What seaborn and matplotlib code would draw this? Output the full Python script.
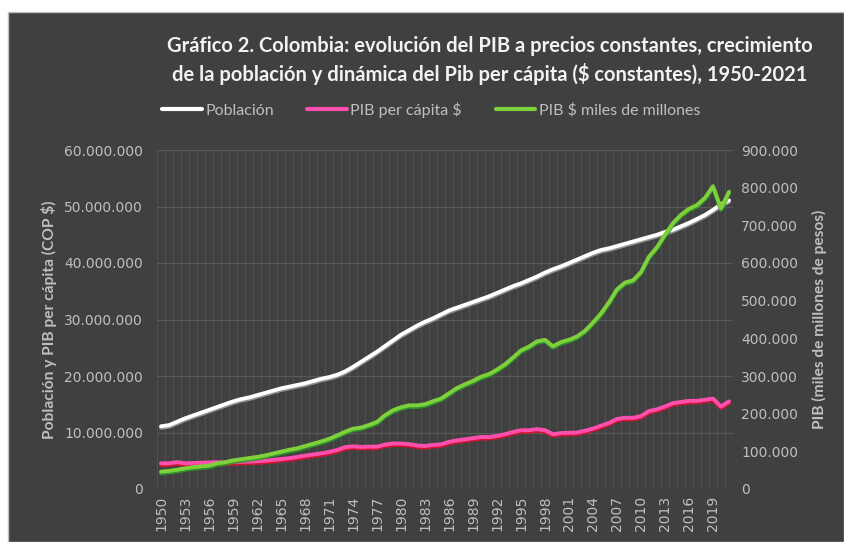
import matplotlib
matplotlib.use("Agg")
import matplotlib.pyplot as plt
import matplotlib.patheffects as pe
from matplotlib.patches import Rectangle
from matplotlib.ticker import FuncFormatter
import numpy as np
import pandas as pd
import seaborn as sns

# Datos
years = list(range(1950, 2022))

poblacion = [
    11.1, 11.3, 11.9, 12.5, 13.0, 13.5, 14.0, 14.5, 15.0, 15.5,
    15.9, 16.2, 16.6, 17.0, 17.4, 17.8, 18.1, 18.4, 18.7, 19.1,
    19.5, 19.8, 20.2, 20.8, 21.6, 22.5, 23.4, 24.3, 25.3, 26.3,
    27.3, 28.1, 28.9, 29.6, 30.2, 30.9, 31.6, 32.1, 32.6, 33.1,
    33.6, 34.1, 34.7, 35.3, 35.9, 36.4, 37.0, 37.6, 38.3, 38.9,
    39.4, 40.0, 40.6, 41.2, 41.8, 42.3, 42.6, 43.0, 43.4, 43.8,
    44.2, 44.6, 45.0, 45.5, 45.9, 46.5, 47.1, 47.8, 48.5, 49.4,
    50.4, 51.1,
]  # millones de personas

pib_per_capita = [
    4.55, 4.55, 4.75, 4.55, 4.6, 4.65, 4.7, 4.75, 4.7, 4.75,
    4.8, 4.85, 4.9, 5.0, 5.15, 5.3, 5.45, 5.65, 5.9, 6.1,
    6.3, 6.55, 6.9, 7.4, 7.55, 7.45, 7.5, 7.5, 7.85, 8.05,
    8.05, 7.95, 7.7, 7.6, 7.8, 7.9, 8.35, 8.6, 8.8, 9.0,
    9.2, 9.2, 9.4, 9.7, 10.1, 10.4, 10.4, 10.6, 10.4, 9.7,
    9.9, 9.95, 10.0, 10.3, 10.7, 11.2, 11.7, 12.4, 12.6, 12.6,
    12.9, 13.8, 14.1, 14.6, 15.2, 15.4, 15.6, 15.6, 15.8, 16.0,
    14.6, 15.5,
]  # millones de COP

pib_total = [
    46, 48, 51, 55, 58, 60, 62, 68, 71, 76,
    79, 82, 85, 89, 94, 99, 104, 108, 114, 120,
    126, 133, 142, 152, 160, 163, 170, 178, 196, 209,
    217, 222, 222, 225, 233, 240, 254, 268, 278, 287,
    298, 305, 317, 331, 349, 368, 378, 392, 396, 379,
    390, 396, 405, 420, 442, 466, 496, 530, 548, 554,
    576, 617, 642, 675, 706, 728, 744, 754, 773, 804,
    745, 789,
]  # miles de miles de millones

df = pd.DataFrame({
    "idx": np.arange(len(years)),
    "Población": np.array(poblacion) * 1e6,
    "PIB per cápita $": np.array(pib_per_capita) * 1e6,
    "PIB $ miles de millones": np.array(pib_total) * 1e3,
})

BG = "#404040"
TXT = "#bfbfbf"
FONT = ["Lato", "DejaVu Sans"]

sns.set_style("dark")
plt.rcParams["font.family"] = ["DejaVu Sans"]

fig = plt.figure(figsize=(8.44, 5.42), dpi=100, facecolor="white")
fig.patches.append(Rectangle((8 / 844, 0), 1 - 8 / 844, 1 - 12 / 542,
                             transform=fig.transFigure, facecolor=BG,
                             edgecolor="#bfbfbf", linewidth=1, zorder=-10))

ax = fig.add_axes([157 / 844, 1 - 489 / 542, (733 - 157) / 844, (489 - 150) / 542])
ax.set_facecolor(BG)
ax2 = ax.twinx()

# Rejilla
for i in range(len(years) + 1):
    ax.axvline(i - 0.5, color="#4f4f4f", linewidth=0.8, zorder=0)
for v in range(10_000_000, 60_000_001, 10_000_000):
    ax.axhline(v, color="#595959", linewidth=0.9, zorder=0)

def shadow(col):
    return [pe.SimpleLineShadow(offset=(0, -1.2), shadow_color=col, alpha=0.9),
            pe.Normal()]

sns.lineplot(data=df, x="idx", y="Población", ax=ax, color="white", linewidth=2.8,
             path_effects=shadow("#9a9a9a"), zorder=4)
sns.lineplot(data=df, x="idx", y="PIB per cápita $", ax=ax, color="#ff4fae", linewidth=2.8,
             path_effects=shadow("#e01030"), zorder=3)
sns.lineplot(data=df, x="idx", y="PIB $ miles de millones", ax=ax2, color="#7fd13b",
             linewidth=2.8, path_effects=shadow("#2a9a2a"), zorder=5)

ax.set_xlim(-0.5, len(years) - 0.5)
ax.set_ylim(0, 60_000_000)
ax2.set_ylim(0, 900_000)
ax.set_yticks(range(0, 60_000_001, 10_000_000))
ax2.set_yticks(range(0, 900_001, 100_000))

fmt = FuncFormatter(lambda v, p: f"{int(v):,}".replace(",", "."))
ax.yaxis.set_major_formatter(fmt)
ax2.yaxis.set_major_formatter(fmt)

ax.set_xticks(np.arange(0, len(years), 3))
ax.set_xticklabels([str(y) for y in years[::3]], rotation=90)

for a in (ax, ax2):
    for s in a.spines.values():
        s.set_visible(False)
    a.tick_params(colors=TXT, labelsize=10, length=0)
    a.grid(False)
ax.tick_params(axis="y", pad=10)
ax2.tick_params(axis="y", pad=6)
ax.tick_params(axis="x", pad=5)

ax.set_xlabel("")
ax.set_ylabel("Población y PIB per cápita (COP $)", color=TXT, fontsize=11.2,
              fontweight="bold", family=FONT, labelpad=5)
ax2.set_ylabel("PIB (miles de millones de pesos)", color=TXT, fontsize=11.2,
               fontweight="bold", family=FONT, labelpad=10)

fig.text(490 / 844, 1 - 46 / 542,
         "Gráfico 2. Colombia: evolución del PIB a precios constantes, crecimiento",
         ha="center", va="center", color="#f2f2f2", fontsize=14.5, fontweight="bold",
         family=FONT)
fig.text(490 / 844, 1 - 74 / 542,
         "de la población y dinámica del Pib per cápita ($ constantes), 1950-2021",
         ha="center", va="center", color="#f2f2f2", fontsize=14.5, fontweight="bold",
         family=FONT)

leg_lines = [plt.Line2D([], [], color=c, linewidth=3) for c in ("white", "#ff4fae", "#7fd13b")]
leg = fig.legend(leg_lines, ["Población", "PIB per cápita $", "PIB $ miles de millones"],
                 loc="center", bbox_to_anchor=(431 / 844, 1 - 110 / 542), ncol=3,
                 frameon=False, handlelength=2.5, handletextpad=0.2, columnspacing=2.1,
                 prop={"family": FONT, "size": 11.5})
for t in leg.get_texts():
    t.set_color(TXT)

fig.savefig("out.png", dpi=100, facecolor="white")
